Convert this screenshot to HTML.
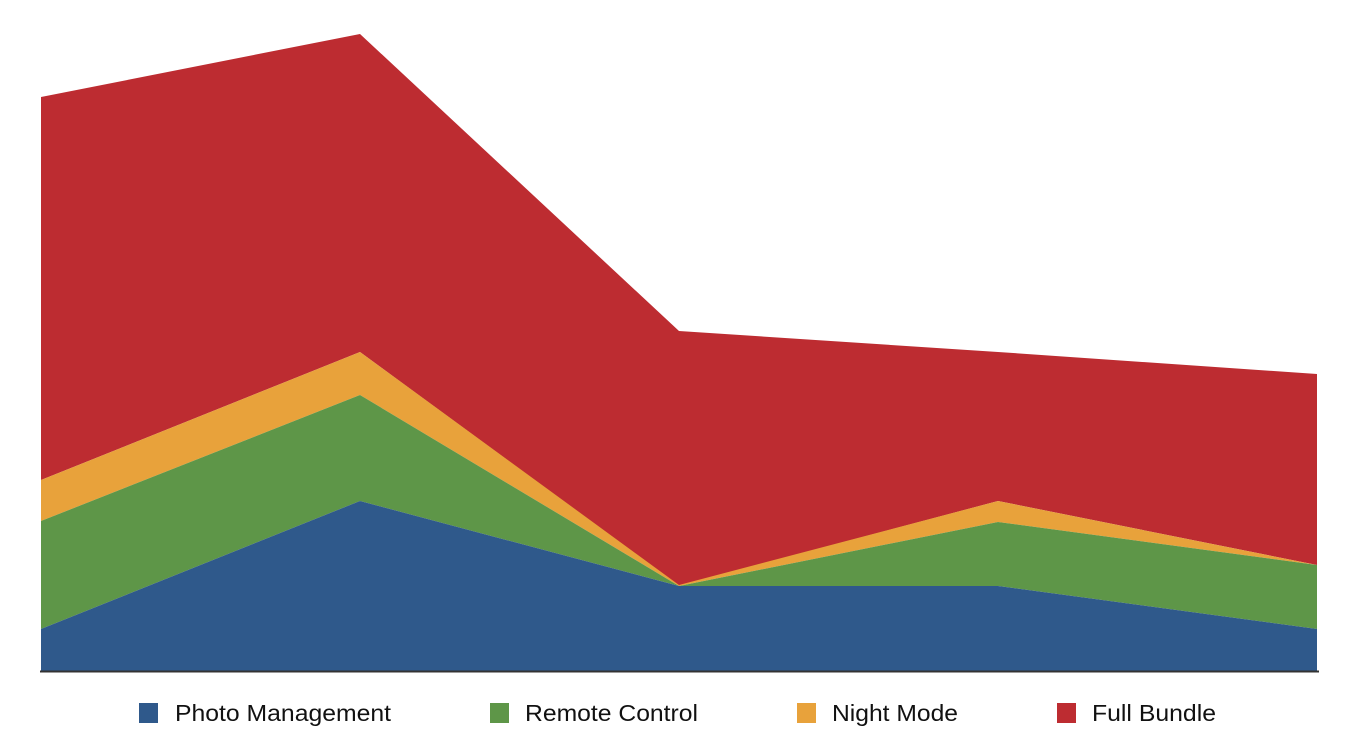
<!DOCTYPE html>
<html><head><meta charset="utf-8"><style>
body{margin:0;background:#fff;width:1360px;height:740px;overflow:hidden}
text{font-family:"Liberation Sans",Arial,sans-serif;font-size:23px;fill:#111}
</style></head><body>
<svg width="1360" height="740" xmlns="http://www.w3.org/2000/svg">
<polygon fill="#bd2c31" points="41,97 360,34 679,331 998,352 1317,374 1317,565 998,501 679,586 360,352 41,480"/>
<polygon fill="#e8a23b" points="41,480 360,352 679,585 998,501 1317,565 1317,565 998,522 679,586 360,395 41,521"/>
<polygon fill="#5e9648" points="41,521 360,395 679,586 998,522 1317,565 1317,629 998,586 679,586 360,501 41,629"/>
<polygon fill="#2f598b" points="41,629 360,501 679,586 998,586 1317,629 1317,671 41,671"/>
<line x1="40" y1="671.5" x2="1319" y2="671.5" stroke="#333" stroke-width="2"/>
<rect x="139" y="703" width="19" height="20" fill="#2f598b"/>
<text x="175" y="721" textLength="216" lengthAdjust="spacingAndGlyphs">Photo Management</text>
<rect x="490" y="703" width="19" height="20" fill="#5e9648"/>
<text x="525" y="721" textLength="173" lengthAdjust="spacingAndGlyphs">Remote Control</text>
<rect x="797" y="703" width="19" height="20" fill="#e8a23b"/>
<text x="832" y="721" textLength="126" lengthAdjust="spacingAndGlyphs">Night Mode</text>
<rect x="1057" y="703" width="19" height="20" fill="#bd2c31"/>
<text x="1092" y="721" textLength="124" lengthAdjust="spacingAndGlyphs">Full Bundle</text>
</svg>
</body></html>
